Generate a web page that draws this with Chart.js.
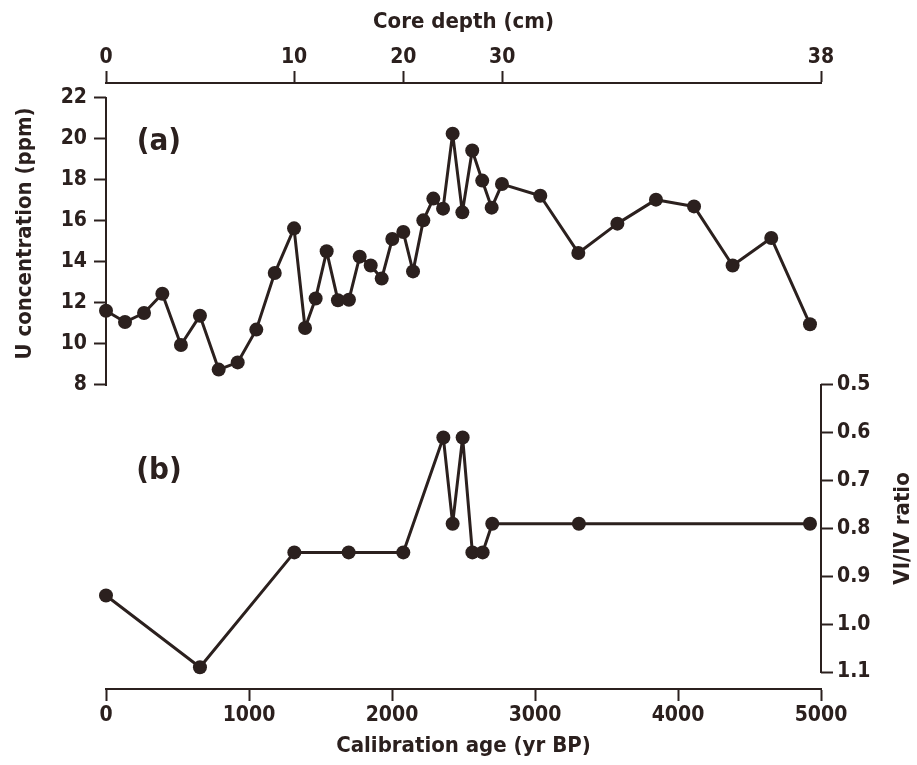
<!DOCTYPE html>
<html>
<head>
<meta charset="utf-8">
<script src="https://cdn.jsdelivr.net/npm/chart.js@4.4.1/dist/chart.umd.min.js"></script>
<style>
  html, body { margin: 0; padding: 0; background: #fff; }
  #wrap { width: 917px; height: 765px; }
</style>
</head>
<body>
<div id="wrap"><canvas id="coreChart" width="917" height="765"></canvas></div>
<script>
// U concentration (ppm) vs calibration age (yr BP)
const uAges = [0, 133, 266, 394, 524, 657, 788, 921, 1051, 1180,
  1315, 1392, 1466, 1543, 1622, 1699, 1774, 1851, 1928, 2002,
  2079, 2147, 2219, 2289, 2357, 2424, 2492, 2561, 2631, 2697,
  2769, 3037, 3303, 3576, 3846, 4112, 4382, 4652, 4923];
const uValues = [11.62, 11.07, 11.51, 12.45, 9.95, 11.38, 8.75, 9.1, 10.7, 13.46,
  15.64, 10.78, 12.22, 14.52, 12.13, 12.16, 14.26, 13.83, 13.19, 15.12,
  15.46, 13.54, 16.03, 17.09, 16.6, 20.26, 16.42, 19.44, 17.97, 16.65,
  17.8, 17.23, 14.44, 15.87, 17.04, 16.71, 13.83, 15.17, 10.96];

// VI/IV ratio vs calibration age
const ratioAges = [0, 657, 1317, 1697, 2079, 2359, 2424, 2494, 2562, 2634, 2701, 3307, 4923];
const ratioValues = [0.94, 1.09, 0.85, 0.85, 0.85, 0.61, 0.79, 0.61, 0.85, 0.85, 0.79, 0.79, 0.79];

// axis ticks
const ageTicks = [0, 1000, 2000, 3000, 4000, 5000];
const depthTickAges = [0, 1315, 2079, 2771, 5000];
const depthTickLabels = ['0', '10', '20', '30', '38'];
const uTicks = [8, 10, 12, 14, 16, 18, 20, 22];
const ratioTicks = [0.5, 0.6, 0.7, 0.8, 0.9, 1.0, 1.1];

const ink = '#2b201e';
const fontFamily = "'Liberation Sans Narrow', 'DejaVu Sans Condensed', 'Arial Narrow', sans-serif";

// each panel only uses part of the shared plot height
const uRange = { min: -6.83, max: 22.73 };
const ratioRange = { min: -0.131, max: 1.1355 };

function toPoints(xs, ys){
  return xs.map((x, i) => ({ x, y: ys[i] }));
}

const axisTickGrid = {
  display: true,
  drawOnChartArea: false,
  drawTicks: true,
  tickLength: 12,
  tickWidth: 2,
  color: ink
};

const panelDecor = {
  id: 'panelDecor',
  afterDatasetsDraw(chart){
    const ctx = chart.ctx;
    const y = chart.scales.y;
    const y2 = chart.scales.y2;
    const x = chart.scales.x;

    ctx.save();
    ctx.strokeStyle = ink;
    ctx.lineWidth = 2;
    ctx.lineCap = 'butt';

    // partial axis lines
    ctx.beginPath();
    ctx.moveTo(y.right, y.getPixelForValue(uTicks[0]) + 1);
    ctx.lineTo(y.right, y.getPixelForValue(uTicks[uTicks.length - 1]) - 1);
    ctx.moveTo(y2.left, y2.getPixelForValue(ratioTicks[0]) - 1);
    ctx.lineTo(y2.left, y2.getPixelForValue(ratioTicks[ratioTicks.length - 1]) + 1);
    ctx.stroke();

    ctx.fillStyle = ink;
    ctx.textAlign = 'center';
    ctx.textBaseline = 'middle';

    // axis titles
    ctx.font = 'bold 22px ' + fontFamily;
    const uMid = (y.getPixelForValue(8) + y.getPixelForValue(22)) / 2 - 8;
    ctx.save();
    ctx.translate(25, uMid);
    ctx.rotate(-Math.PI / 2);
    ctx.fillText('U concentration (ppm)', 0, 0);
    ctx.restore();

    const rMid = (y2.getPixelForValue(0.5) + y2.getPixelForValue(1.1)) / 2;
    ctx.save();
    ctx.translate(903, rMid);
    ctx.rotate(-Math.PI / 2);
    ctx.fillText('VI/IV ratio', 0, 0);
    ctx.restore();

    // panel letters
    ctx.font = 'bold 31px ' + fontFamily;
    ctx.fillText('(a)', x.getPixelForValue(370), y.getPixelForValue(19.85));
    ctx.fillText('(b)', x.getPixelForValue(370), y2.getPixelForValue(0.68));
    ctx.restore();
  }
};

Chart.defaults.font.family = fontFamily;
Chart.defaults.font.weight = 'bold';
Chart.defaults.color = ink;

const seriesStyle = {
  xAxisID: 'x',
  borderColor: ink,
  backgroundColor: ink,
  borderWidth: 3,
  borderJoinStyle: 'round',
  pointRadius: 7,
  pointBorderWidth: 0,
  tension: 0,
  clip: false
};

new Chart(document.getElementById('coreChart'), {
  type: 'line',
  data: {
    datasets: [
      Object.assign({
        label: 'U concentration',
        data: toPoints(uAges, uValues),
        yAxisID: 'y'
      }, seriesStyle),
      Object.assign({
        label: 'VI/IV ratio',
        data: toPoints(ratioAges, ratioValues),
        yAxisID: 'y2'
      }, seriesStyle)
    ]
  },
  options: {
    responsive: false,
    animation: false,
    devicePixelRatio: 1,
    layout: { padding: 0 },
    plugins: {
      legend: { display: false },
      tooltip: { enabled: false }
    },
    scales: {
      x: {
        type: 'linear',
        position: 'bottom',
        min: 0,
        max: 5000,
        afterBuildTicks(scale){
          scale.ticks = ageTicks.map(v => ({ value: v }));
        },
        afterFit(scale){
          scale.height = 76;
        },
        ticks: {
          font: { size: 21, weight: 'bold' },
          padding: 2,
          maxRotation: 0,
          color: ink,
          callback: value => String(value)
        },
        grid: axisTickGrid,
        border: { display: true, color: ink, width: 2 },
        title: {
          display: true,
          text: 'Calibration age (yr BP)',
          font: { size: 22, weight: 'bold' },
          padding: { top: 0, bottom: 6 },
          color: ink
        }
      },
      xTop: {
        type: 'linear',
        position: 'top',
        min: 0,
        max: 5000,
        afterBuildTicks(scale){
          scale.ticks = depthTickAges.map(v => ({ value: v }));
        },
        afterFit(scale){
          scale.height = 83;
        },
        ticks: {
          font: { size: 21, weight: 'bold' },
          padding: 1,
          maxRotation: 0,
          color: ink,
          callback: (value, index) => depthTickLabels[index]
        },
        grid: axisTickGrid,
        border: { display: true, color: ink, width: 2 },
        title: {
          display: true,
          text: 'Core depth (cm)',
          font: { size: 22, weight: 'bold' },
          padding: { top: 9, bottom: 0 },
          color: ink
        }
      },
      y: {
        type: 'linear',
        position: 'left',
        min: uRange.min,
        max: uRange.max,
        afterBuildTicks(scale){
          scale.ticks = uTicks.map(v => ({ value: v }));
        },
        afterFit(scale){
          scale.width = 106;
        },
        ticks: {
          font: { size: 21, weight: 'bold' },
          padding: 7,
          color: ink
        },
        grid: axisTickGrid,
        border: { display: false }
      },
      y2: {
        type: 'linear',
        position: 'right',
        reverse: true,
        min: ratioRange.min,
        max: ratioRange.max,
        afterBuildTicks(scale){
          scale.ticks = ratioTicks.map(v => ({ value: v }));
        },
        afterFit(scale){
          scale.width = 96;
        },
        ticks: {
          font: { size: 21, weight: 'bold' },
          padding: 4,
          color: ink,
          callback: value => Number(value).toFixed(1)
        },
        grid: axisTickGrid,
        border: { display: false }
      }
    }
  },
  plugins: [panelDecor]
});
</script>
</body>
</html>
